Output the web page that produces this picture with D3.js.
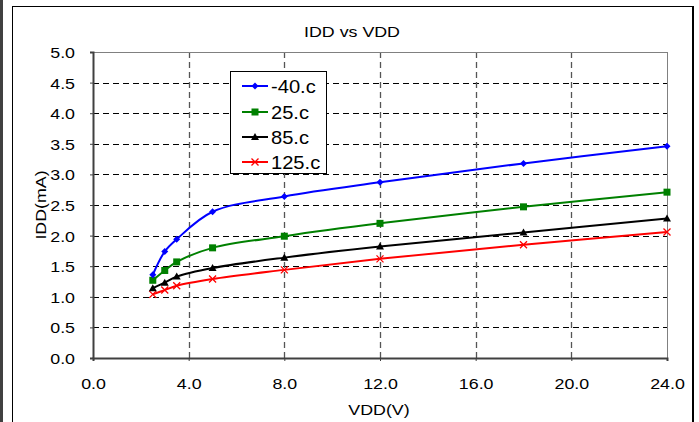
<!DOCTYPE html>
<html><head><meta charset="utf-8">
<script src="https://cdn.jsdelivr.net/npm/d3@7"></script>
<style>body{margin:0;background:#fff}svg{display:block;font-family:Arial,"Liberation Sans",sans-serif}</style>
</head><body><svg id="c" width="699" height="422"></svg>
<script>
const vdd = [2.5, 3.0, 3.5, 5.0, 8.0, 12.0, 18.0, 24.0];
const s_m40 = [1.36, 1.74, 1.94, 2.39, 2.64, 2.87, 3.18, 3.46];
const s_25  = [1.27, 1.43, 1.57, 1.80, 1.99, 2.20, 2.47, 2.71];
const s_85  = [1.14, 1.23, 1.33, 1.47, 1.64, 1.82, 2.05, 2.28];
const s_125 = [1.04, 1.11, 1.18, 1.29, 1.44, 1.62, 1.85, 2.06];
const seriesNames = ["-40.c", "25.c", "85.c", "125.c"];
const seriesVals = [s_m40, s_25, s_85, s_125];
const seriesColors = ["#0000ff", "#008000", "#000000", "#ff0000"];
const markers = ["diamond", "square", "triangle", "x"];
const xTicks = [0, 4, 8, 12, 16, 20, 24];
const yTicks = [0, 0.5, 1, 1.5, 2, 2.5, 3, 3.5, 4, 4.5, 5];

const SX = 1.15; // horizontal text stretch seen in reference
const svg = d3.select("#c");
const L = 93, R = 667, T = 52, B = 358;
const x = d3.scaleLinear().domain([0, 24]).range([L, R]);
const y = d3.scaleLinear().domain([0, 5]).range([B, T]);

function stext(parent, px, py, str, size, anchor, rot) {
  const t = parent.append("text")
    .attr("transform", `translate(${px},${py})` + (rot ? ` rotate(${rot})` : "") + ` scale(${SX},1)`)
    .attr("text-anchor", anchor).attr("font-size", size).attr("fill", "#000").text(str);
  return t;
}

// outer frames
svg.append("rect").attr("x", 0).attr("y", 0).attr("width", 3).attr("height", 422).attr("fill", "#404040");
svg.append("rect").attr("x", 12.5).attr("y", 6.5).attr("width", 680).attr("height", 420).attr("fill", "none").attr("stroke", "#000").attr("stroke-width", 1);
svg.append("line").attr("x1", 693).attr("x2", 693).attr("y1", 6).attr("y2", 422).attr("stroke", "#000").attr("stroke-width", 2);

// grid
const g = svg.append("g");
g.selectAll(".hg").data(yTicks.slice(1, -1)).join("line")
  .attr("x1", L).attr("x2", R).attr("y1", d => Math.round(y(d)) + 0.5).attr("y2", d => Math.round(y(d)) + 0.5)
  .attr("stroke", "#000").attr("stroke-dasharray", "6,4").attr("stroke-width", 1);
g.selectAll(".vg").data(xTicks.slice(1, -1)).join("line")
  .attr("x1", d => Math.round(x(d)) + 0.5).attr("x2", d => Math.round(x(d)) + 0.5).attr("y1", T).attr("y2", B)
  .attr("stroke", "#555").attr("stroke-dasharray", "6,4").attr("stroke-width", 1.3);

// plot border
svg.append("rect").attr("x", L + 0.5).attr("y", T + 0.5).attr("width", R - L).attr("height", B - T)
  .attr("fill", "none").attr("stroke", "#808080").attr("stroke-width", 1);

// axes
const fmt = d3.format(".1f");
const yAxis = d3.axisLeft(y).tickValues(yTicks).tickSize(3).tickFormat(fmt);
const ya = svg.append("g").attr("transform", `translate(${L},0)`).call(yAxis);
ya.select(".domain").attr("stroke", "#404040").attr("stroke-width", 2);
ya.selectAll(".tick line").attr("stroke", "#404040");
ya.selectAll(".tick text").remove();
ya.selectAll(".tick").each(function(d) { stext(d3.select(this), -18, 5.5, fmt(d), 15.5, "end"); });

const xAxis = d3.axisBottom(x).tickValues(xTicks).tickSize(3).tickFormat(fmt);
const xa = svg.append("g").attr("transform", `translate(0,${B})`).call(xAxis);
xa.select(".domain").attr("stroke", "#404040").attr("stroke-width", 2);
xa.selectAll(".tick line").attr("stroke", "#404040");
xa.selectAll(".tick text").remove();
xa.selectAll(".tick").each(function(d) { stext(d3.select(this), 0, 31, fmt(d), 15.5, "middle"); });

// titles
stext(svg, 352, 37, "IDD vs VDD", 15.5, "middle");
stext(svg, 379, 415, "VDD(V)", 15.5, "middle");
stext(svg, 46, 205, "IDD(mA)", 15.5, "middle", -90);

function drawMarker(sel, type, color) {
  if (type === "diamond") sel.append("path").attr("d", "M0,-3.5L3.5,0L0,3.5L-3.5,0Z").attr("fill", color);
  else if (type === "square") sel.append("rect").attr("x", -3.5).attr("y", -3.5).attr("width", 7).attr("height", 7).attr("fill", color);
  else if (type === "triangle") sel.append("path").attr("d", "M0,-4L4,3L-4,3Z").attr("fill", color);
  else sel.append("path").attr("d", "M-3.5,-3.5L3.5,3.5M-3.5,3.5L3.5,-3.5").attr("stroke", color).attr("stroke-width", 1.3).attr("fill", "none");
}

const line = d3.line().x(d => x(d[0])).y(d => y(d[1])).curve(d3.curveCatmullRom.alpha(0.5));
for (let i = seriesVals.length - 1; i >= 0; i--) {
  const pts = vdd.map((v, j) => [v, seriesVals[i][j]]);
  svg.append("path").datum(pts).attr("d", line).attr("fill", "none").attr("stroke", seriesColors[i]).attr("stroke-width", 2);
  pts.forEach(p => {
    const m = svg.append("g").attr("transform", `translate(${x(p[0])},${y(p[1])})`);
    drawMarker(m, markers[i], seriesColors[i]);
  });
}

// legend
const lg = svg.append("g");
lg.append("rect").attr("x", 230.5).attr("y", 71.5).attr("width", 96).attr("height", 102).attr("fill", "#fff").attr("stroke", "#000");
const ly = [86, 112, 137, 162];
seriesNames.forEach((n, i) => {
  lg.append("line").attr("x1", 242).attr("x2", 268).attr("y1", ly[i]).attr("y2", ly[i]).attr("stroke", seriesColors[i]).attr("stroke-width", 2);
  const m = lg.append("g").attr("transform", `translate(255,${ly[i]})`);
  drawMarker(m, markers[i], seriesColors[i]);
  stext(lg, 271, ly[i] + 6.5, n, 17.5, "start");
});
</script></body></html>
